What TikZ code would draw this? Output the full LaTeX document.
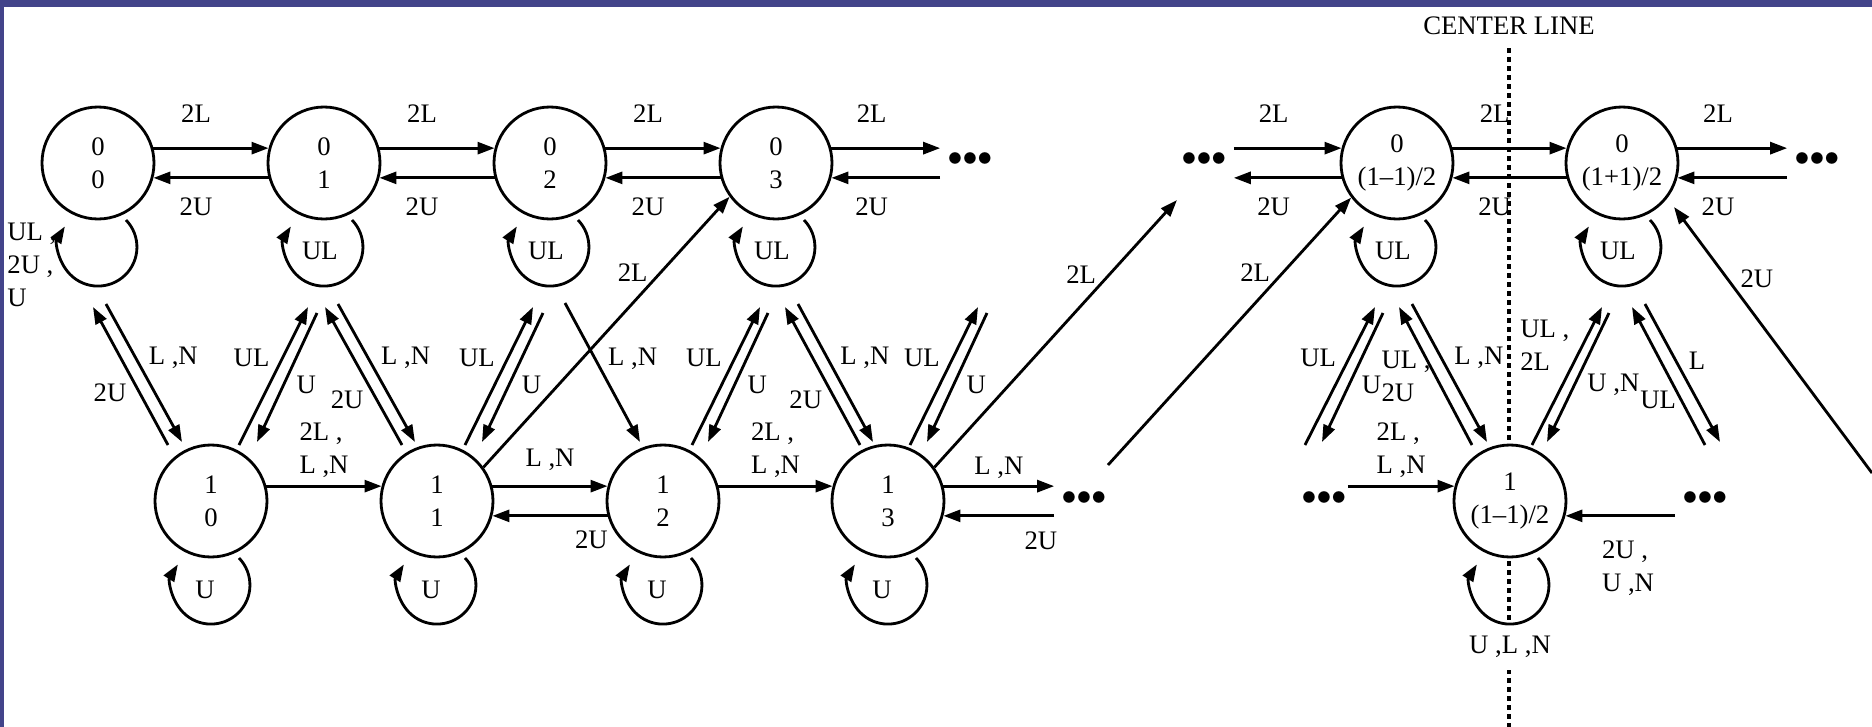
\documentclass[tikz,border=0pt]{standalone}
\usepackage{fontspec}
\setmainfont{Liberation Serif}
\usetikzlibrary{arrows.meta}
\definecolor{bar}{RGB}{67,68,138}

\begin{document}
\begin{tikzpicture}[every node/.style={font=\fontsize{7.6}{9.4}\selectfont}, >={Triangle[length=1.7mm,width=1.2mm]}, line width=0.8pt, st/.style={draw, circle, fill=white, minimum size=11.2mm, inner sep=0pt, align=center}, dots/.style={inner sep=0.6mm}]
	\useasboundingbox (0,0) rectangle (18.72,-7.27);
	\fill[bar] (0,0) rectangle (18.72,-0.07); \fill[bar] (0,0) rectangle (0.04,-7.27);
	\node (cl) at (15.09,-0.26) {CENTER LINE}; \coordinate (clend) at (15.09,-7.27);
	\draw[line width=1pt, dash pattern=on 0.5mm off 0.4mm] (cl) -- (clend);
	\node[st] (s00) at (0.98,-1.63) {0\\0}; \node[st] (s01) at (3.24,-1.63) {0\\1}; \node[st] (s02) at (5.50,-1.63) {0\\2}; \node[st] (s03) at (7.76,-1.63) {0\\3};
	\node[st] (sa0) at (13.97,-1.63) {0\\(1–1)/2}; \node[st] (sb0) at (16.22,-1.63) {0\\(1+1)/2};
	\node[st] (s10) at (2.11,-5.01) {1\\0}; \node[st] (s11) at (4.37,-5.01) {1\\1}; \node[st] (s12) at (6.63,-5.01) {1\\2}; \node[st] (s13) at (8.88,-5.01) {1\\3};
	\node[st] (sa1) at (15.10,-5.01) {1\\(1–1)/2};
	\node[dots] (d1) at (9.70,-1.59) {${\bullet}{\bullet}{\bullet}$}; \node[dots] (d2) at (12.04,-1.59) {${\bullet}{\bullet}{\bullet}$}; \node[dots] (d3) at (18.17,-1.59) {${\bullet}{\bullet}{\bullet}$};
	\node[dots] (d4) at (10.84,-4.98) {${\bullet}{\bullet}{\bullet}$}; \node[dots, inner sep=0pt] (d5) at (13.24,-4.98) {${\bullet}{\bullet}{\bullet}$}; \node[dots] (d6) at (17.05,-4.98) {${\bullet}{\bullet}{\bullet}$};
	\coordinate (h1) at (9.78,-3.07); \coordinate (h2) at (9.87,-3.13); \coordinate (l1) at (13.05,-4.45); \coordinate (l2) at (13.22,-4.42);
	\coordinate (o1) at (17.05,-4.45); \coordinate (o2) at (17.20,-4.42); \coordinate (j1) at (11.77,-2.00); \coordinate (k1) at (11.08,-4.65); \coordinate (p1) at (18.72,-4.73);
	\node[align=left, anchor=west, inner sep=0.3mm] (u00) at ([shift={(-0.95,-1.02)}]s00) {UL ,\\2U ,\\U};
	\node (u01) at ([shift={(-0.04,-0.88)}]s01) {UL}; \node (u02) at ([shift={(-0.04,-0.88)}]s02) {UL}; \node (u03) at ([shift={(-0.04,-0.88)}]s03) {UL};
	\node (ua0) at ([shift={(-0.04,-0.88)}]sa0) {UL}; \node (ub0) at ([shift={(-0.04,-0.88)}]sb0) {UL};
	\node (u10) at ([shift={(-0.06,-0.89)}]s10) {U}; \node (u11) at ([shift={(-0.06,-0.89)}]s11) {U}; \node (u12) at ([shift={(-0.06,-0.89)}]s12) {U}; \node (u13) at ([shift={(-0.06,-0.89)}]s13) {U};
	\node[fill=white, inner sep=1.2mm] (ua1) at ([shift={(0,-1.46)}]sa1) {U ,L ,N};
	\draw[->] (s00) ++(0.28,-0.57) arc[start angle=44, end angle=-212, radius=0.39]; \draw[->] (s01) ++(0.28,-0.57) arc[start angle=44, end angle=-212, radius=0.39];
	\draw[->] (s02) ++(0.28,-0.57) arc[start angle=44, end angle=-212, radius=0.39]; \draw[->] (s03) ++(0.28,-0.57) arc[start angle=44, end angle=-212, radius=0.39];
	\draw[->] (sa0) ++(0.28,-0.57) arc[start angle=44, end angle=-212, radius=0.39]; \draw[->] (sb0) ++(0.28,-0.57) arc[start angle=44, end angle=-212, radius=0.39];
	\draw[->] (s10) ++(0.28,-0.57) arc[start angle=44, end angle=-212, radius=0.39]; \draw[->] (s11) ++(0.28,-0.57) arc[start angle=44, end angle=-212, radius=0.39];
	\draw[->] (s12) ++(0.28,-0.57) arc[start angle=44, end angle=-212, radius=0.39]; \draw[->] (s13) ++(0.28,-0.57) arc[start angle=44, end angle=-212, radius=0.39];
	\draw[->] (sa1) ++(0.28,-0.57) arc[start angle=44, end angle=-212, radius=0.39];
	\draw[->] (s00.15) -- node[above=1.3mm,pos=.37]{2L} (s01.165); \draw[->] (s01.-165) -- node[below=0.7mm,pos=.63]{2U} (s00.-15);
	\draw[->] (s01.15) -- node[above=1.3mm,pos=.37]{2L} (s02.165); \draw[->] (s02.-165) -- node[below=0.7mm,pos=.63]{2U} (s01.-15);
	\draw[->] (s02.15) -- node[above=1.3mm,pos=.37]{2L} (s03.165); \draw[->] (s03.-165) -- node[below=0.7mm,pos=.63]{2U} (s02.-15);
	\draw[->] (s03.15) -- node[above=1.3mm,pos=.37]{2L} (s03.15 -| d1.west); \draw[->] (s03.-15 -| d1.west) -- node[below=0.7mm,pos=.63]{2U} (s03.-15);
	\draw[->] (sa0.165 -| d2.east) -- node[above=1.3mm,pos=.37]{2L} (sa0.165); \draw[->] (sa0.-165) -- node[below=0.7mm,pos=.63]{2U} (sa0.-165 -| d2.east);
	\draw[->] (sa0.15) -- node[above=1.3mm,pos=.37]{2L} (sb0.165); \draw[->] (sb0.-165) -- node[below=0.7mm,pos=.63]{2U} (sa0.-15);
	\draw[->] (sb0.15) -- node[above=1.3mm,pos=.37]{2L} (sb0.15 -| d3.west); \draw[->] (sb0.-15 -| d3.west) -- node[below=0.7mm,pos=.63]{2U} (sb0.-15);
	\draw[->] (s10.15) -- node[above=-0.45mm, align=left]{2L ,\\L ,N} (s11.165);
	\draw[->] (s11.15) -- node[above=0.25mm]{L ,N} (s12.165); \draw[->] (s12.-165) -- node[below=0.2mm,pos=.14]{2U} (s11.-15);
	\draw[->] (s12.15) -- node[above=-0.45mm, align=left]{2L ,\\L ,N} (s13.165);
	\draw[->] (s13.15) -- node[above=-0.55mm]{L ,N} (s13.15 -| d4.west); \draw[->] (s13.-15 -| d4.west) -- node[below=0.3mm,pos=.12]{2U} (s13.-15);
	\draw[->] (sa1.165 -| d5.east) -- node[above=-0.45mm, align=left]{2L ,\\L ,N} (sa1.165);
	\draw[->] (sa1.-15 -| d6.west) -- node[below=1.2mm,pos=.43,align=left]{2U ,\\U ,N} (sa1.-15);
	\draw[->] ([shift={(-0.43,0.56)}]s10.center) -- node[left,pos=.38]{2U} ([shift={(-0.05,-1.44)}]s00.center);
	\draw[->] ([shift={(0.08,-1.41)}]s00.center) -- node[right,pos=.39]{L ,N} ([shift={(-0.29,0.59)}]s10.center);
	\draw[->] ([shift={(0.28,0.56)}]s10.center) -- node[left,pos=.63]{UL} ([shift={(-0.16,-1.44)}]s01.center);
	\draw[->] ([shift={(-0.07,-1.50)}]s01.center) -- node[right,pos=.56]{U} ([shift={(0.46,0.59)}]s10.center);
	\draw[->] ([shift={(-0.35,0.56)}]s11.center) -- node[left,pos=.33]{2U} ([shift={(0.01,-1.44)}]s01.center);
	\draw[->] ([shift={(0.14,-1.41)}]s01.center) -- node[right,pos=.39]{L ,N} ([shift={(-0.22,0.59)}]s11.center);
	\draw[->] ([shift={(0.28,0.56)}]s11.center) -- node[left,pos=.63]{UL} ([shift={(-0.17,-1.44)}]s02.center);
	\draw[->] ([shift={(-0.07,-1.50)}]s02.center) -- node[right,pos=.56]{U} ([shift={(0.45,0.59)}]s11.center);
	\draw[->] ([shift={(0.15,-1.40)}]s02.center) -- node[right,pos=.40]{L ,N} ([shift={(-0.23,0.59)}]s12.center);
	\draw[->] ([shift={(0.29,0.56)}]s12.center) -- node[left,pos=.63]{UL} ([shift={(-0.16,-1.44)}]s03.center);
	\draw[->] ([shift={(-0.08,-1.50)}]s03.center) -- node[right,pos=.56]{U} ([shift={(0.45,0.59)}]s12.center);
	\draw[->] ([shift={(-0.28,0.56)}]s13.center) -- node[left,pos=.33]{2U} ([shift={(0.09,-1.44)}]s03.center);
	\draw[->] ([shift={(0.22,-1.41)}]s03.center) -- node[right,pos=.39]{L ,N} ([shift={(-0.15,0.59)}]s13.center);
	\draw[->] ([shift={(0.22,0.56)}]s13.center) -- node[left,pos=.63]{UL} (h1);
	\draw[->] (h2) -- node[right,pos=.56]{U} ([shift={(0.39,0.59)}]s13.center);
	\draw[->] (l1) -- node[left,pos=.63]{UL} ([shift={(-0.22,-1.44)}]sa0.center);
	\draw[->] ([shift={(-0.14,-1.50)}]sa0.center) -- node[right,pos=.56]{U} (l2);
	\draw[->] ([shift={(-0.38,0.56)}]sa1.center) -- node[left,pos=.5,align=left,inner sep=1pt]{UL ,\\2U} ([shift={(0.02,-1.44)}]sa0.center);
	\draw[->] ([shift={(0.15,-1.41)}]sa0.center) -- node[right,pos=.39]{L ,N} ([shift={(-0.23,0.59)}]sa1.center);
	\draw[->] ([shift={(0.22,0.56)}]sa1.center) -- node[left,pos=.72,align=left]{UL ,\\2L} ([shift={(-0.20,-1.44)}]sb0.center);
	\draw[->] ([shift={(-0.13,-1.50)}]sb0.center) -- node[right,pos=.56]{U ,N} ([shift={(0.37,0.59)}]sa1.center);
	\draw[->] (o1) -- node[left,pos=.33,inner sep=1pt]{UL} ([shift={(0.10,-1.44)}]sb0.center);
	\draw[->] ([shift={(0.23,-1.41)}]sb0.center) -- node[right,pos=.41]{L} (o2);
	\draw[->] (s11.36) -- node[left,pos=.72]{2L} (s03.-144);
	\draw[->] (s13.36) -- node[left,pos=.72]{2L} (j1);
	\draw[->] (k1) -- node[left,pos=.72]{2L} (sa0.-143);
	\draw[->] (p1) -- node[right,pos=.73]{2U} ([shift={(0.52,-0.44)}]sb0.center);
\end{tikzpicture}
\end{document}
